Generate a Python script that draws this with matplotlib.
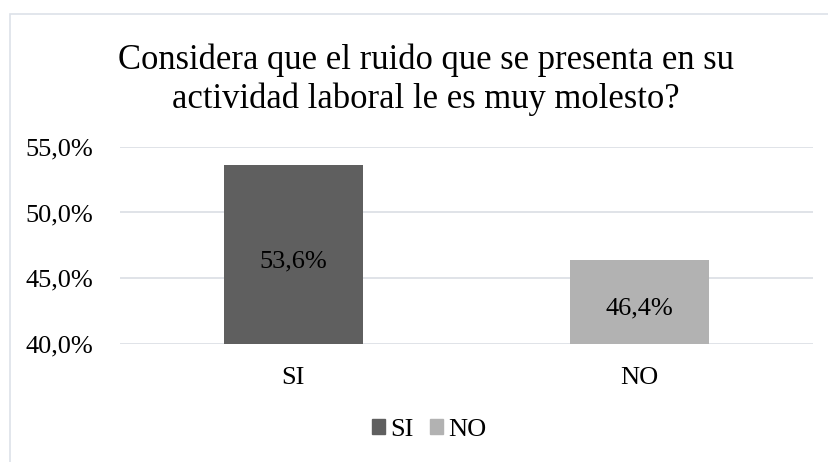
import matplotlib.pyplot as plt
from matplotlib.patches import Rectangle

categories = ["SI", "NO"]
values = [53.6, 46.4]
colors = ["#5f5f5f", "#b2b2b2"]
yticks = [40, 45, 50, 55]
title = "Considera que el ruido que se presenta en su\nactividad laboral le es muy molesto?"

plt.rcParams["font.family"] = ["Liberation Serif", "DejaVu Serif"]

fig = plt.figure(figsize=(8.29, 4.62), dpi=100)
# outer chart border (right and bottom edges fall outside the picture)
fig.patches.append(Rectangle((10 / 829, -0.1), 1.2, 1 - 14 / 462 + 0.1,
                             transform=fig.transFigure, fill=False,
                             edgecolor="#dde2e9", linewidth=1.2))

ax = fig.add_axes([120 / 829, 1 - 343.5 / 462, 693 / 829, 196.5 / 462])
x = range(len(categories))
bars = ax.bar(x, values, width=0.40, color=colors, zorder=3)
for b, v in zip(bars, values):
    ax.text(b.get_x() + b.get_width() / 2, (40 + v) / 2 - 0.5,
            f"{v:.1f}%".replace(".", ","), ha="center", va="center",
            fontsize=19, color="#000000", zorder=4)

ax.set_ylim(40, 55)
ax.set_xlim(-0.5, 1.5)
ax.set_yticks(yticks)
ax.set_yticklabels([f"{t:.1f}%".replace(".", ",") for t in yticks], fontsize=19)
ax.set_xticks(list(x))
ax.set_xticklabels(categories, fontsize=19)
ax.tick_params(axis="y", length=0, pad=19)
ax.tick_params(axis="x", length=0, pad=17)
ax.grid(axis="y", color="#dde1e6", linewidth=1.3, zorder=0)
for s in ax.spines.values():
    s.set_visible(False)

fig.text(426 / 829, 1 - 80 / 462, title, ha="center", va="center",
         fontsize=24.9, linespacing=1.2)

handles = [Rectangle((0, 0), 1, 1, color=c) for c in colors]
fig.legend(handles, categories, loc="center", bbox_to_anchor=(0.518, 1 - 430 / 462),
           ncol=2, frameon=False, fontsize=19, handlelength=0.5, handleheight=0.5,
           handletextpad=0.2, columnspacing=0.6)

fig.savefig("out.png", dpi=100)
